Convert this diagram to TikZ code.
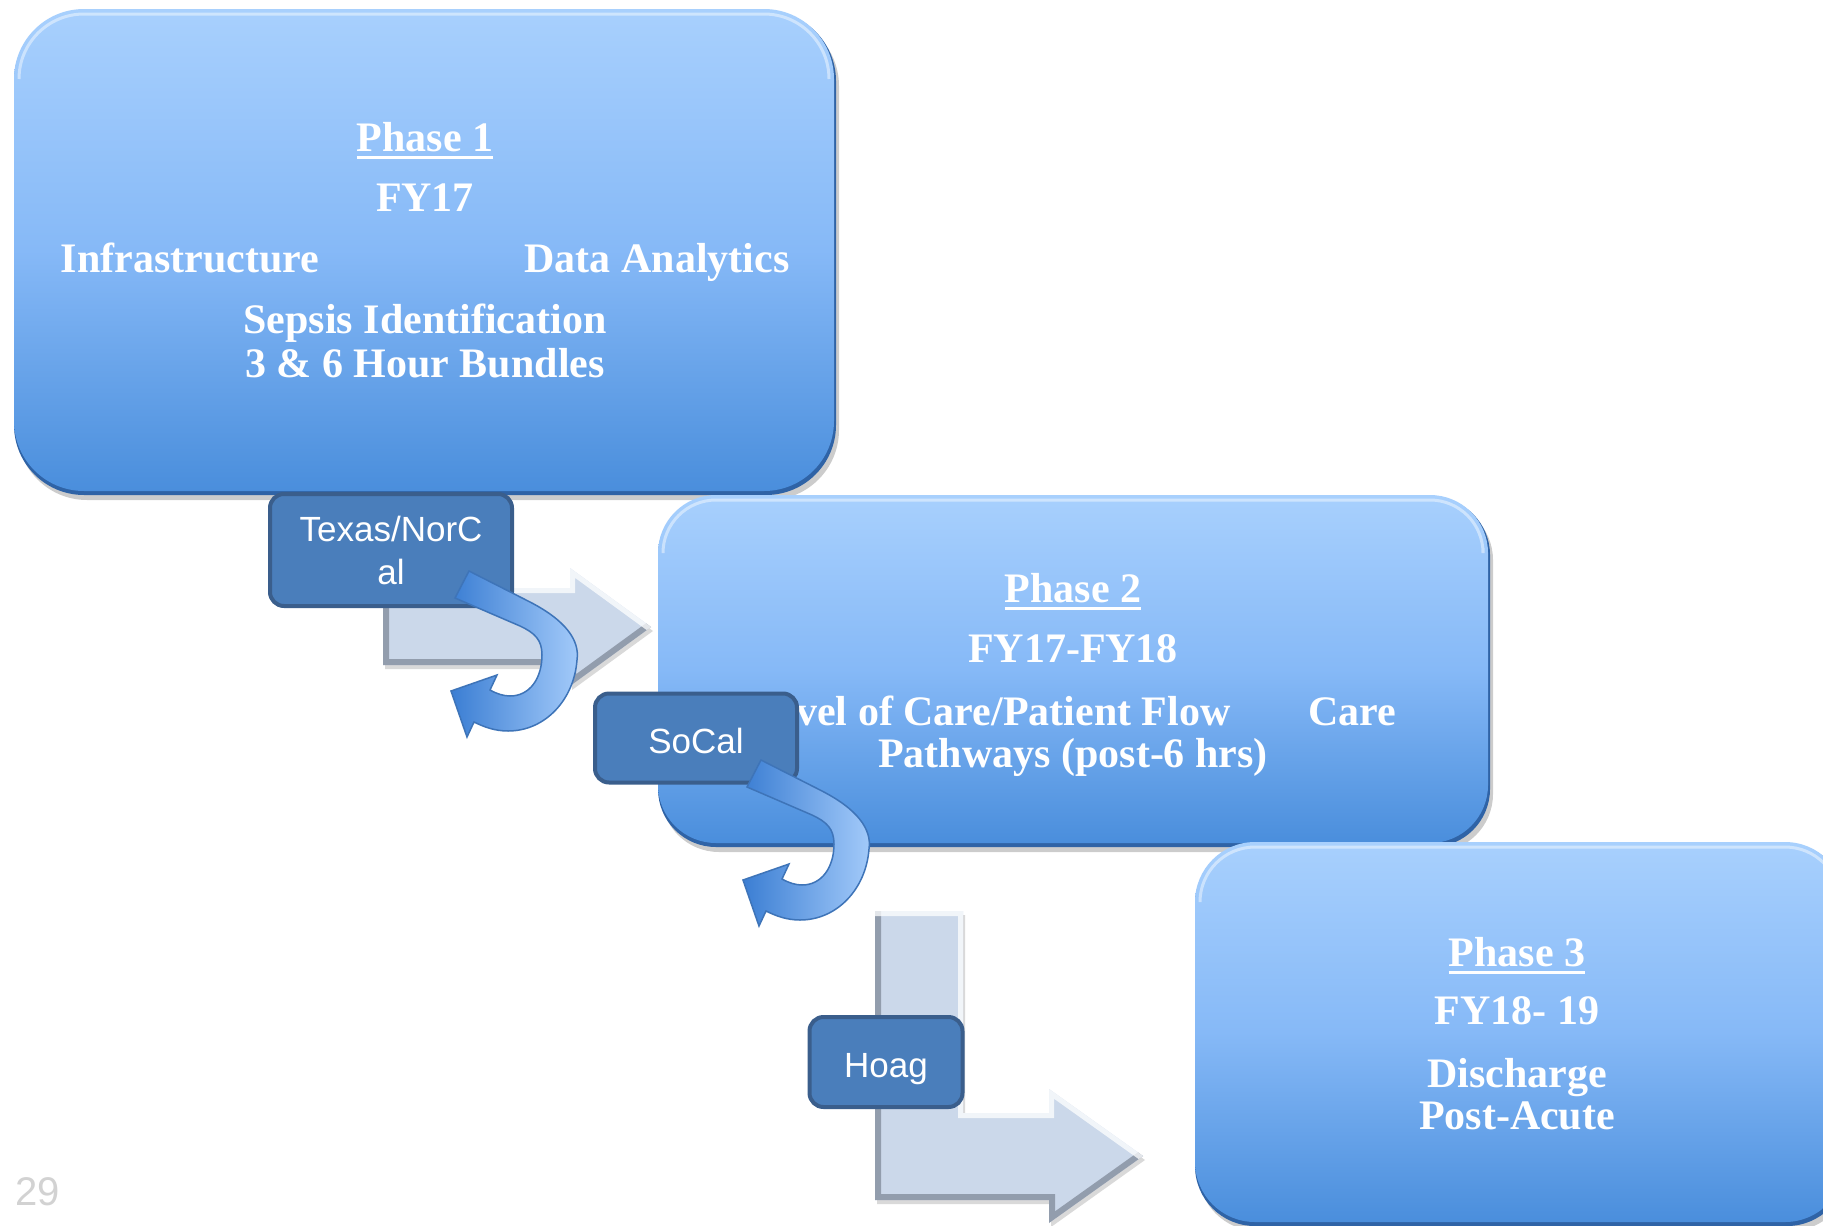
\documentclass[tikz,border=0pt]{standalone}
\usepackage{fontspec}
\setmainfont{Liberation Serif}
\newfontfamily\sansf{Liberation Sans}
\usetikzlibrary{shadows}
\definecolor{boxtop}{HTML}{A8D0FD}
\definecolor{boxmid}{HTML}{86B9F7}
\definecolor{boxbot}{HTML}{4A8EDC}
\definecolor{rim}{HTML}{2F63A6}
\definecolor{lblfill}{HTML}{4A7EBB}
\definecolor{lbldraw}{HTML}{3A5E8C}
\definecolor{greyfill}{HTML}{CBD8EA}
\definecolor{greydark}{HTML}{4E5664}
\definecolor{turnA}{HTML}{3B7ED3}
\definecolor{turnB}{HTML}{A4CBFA}
\definecolor{turnline}{HTML}{3E74B8}
\definecolor{pagenum}{HTML}{D2D2D2}
\tikzset{
  phaserim/.style={fill=rim, inner sep=0pt,
    drop shadow={shadow xshift=3pt, shadow yshift=-5pt, opacity=0.2, fill=black}},
  phasebox/.style={top color=boxtop, bottom color=boxbot, middle color=boxmid, inner sep=0pt},
  hilite/.style={white, opacity=0.45, line width=3pt},
  ptext/.style={text=white, font=\bfseries\fontsize{42}{42}\selectfont, inner sep=0pt, anchor=base},
  uline/.style={white, line width=3pt},
  lbl/.style={fill=lblfill, draw=lbldraw, line width=4pt, rounded corners=14pt, text=white,
    font=\sansf\fontsize{35}{43}\selectfont, align=center, inner sep=0pt},
  darkedge/.style={greydark, line width=12pt, opacity=0.45},
  lightedge/.style={white, line width=10pt, opacity=0.75},
  gshadow/.style={fill=black, opacity=0.15},
  uturn/.pic={
    \path[left color=turnA, right color=turnB, draw=turnline, line width=1.5pt]
      (469,571) -- (530,602) .. controls (565,620) and (580,640) .. (577,660)
      .. controls (574,700) and (545,731) .. (508,731)
      .. controls (495,731) and (484,727) .. (474,722)
      -- (467,737) -- (451,691) -- (497,675) -- (490,690)
      .. controls (497,694) and (504,696) .. (510,696)
      .. controls (530,696) and (542,678) .. (542,655)
      .. controls (542,640) and (535,633) .. (520,626)
      -- (455,598) -- cycle;
  }
}
\begin{document}
\begin{tikzpicture}[x=1pt, y=-1pt]
\useasboundingbox (0,0) rectangle (1823,1226);
\clip (0,0) rectangle (1823,1226);
\fill[white] (0,0) rectangle (1823,1226);

% ---------- Phase 1 box ----------
\node[phaserim, minimum width=822pt, minimum height=484pt, rounded corners=70pt] (b1rim) at (425,253) {};
\node[phasebox, minimum width=820pt, minimum height=482pt, rounded corners=70pt] (b1) at (424,250) {};
\draw[hilite, rounded corners=65pt] (19,79) -- (19,14) -- (829,14) -- (829,79);
\node[ptext] (p1) at (425,151) {Phase 1};
\draw[uline] ([yshift=-6pt]p1.base west) -- ([yshift=-6pt]p1.base east);
\node[ptext] (fy1) at (425,211) {FY17};
\node[ptext] (infra) at (190,272) {Infrastructure};
\node[ptext] (data) at (657,272) {Data Analytics};
\node[ptext] (seps) at (425,333) {Sepsis Identification};
\node[ptext] (bund) at (425,377) {3 \& 6 Hour Bundles};

% ---------- grey arrow 1 ----------
\fill[gshadow] (385,592) -- (572,592) -- (572,572) -- (653,631) -- (572,690) -- (572,669) -- (385,669) -- cycle;
\begin{scope}
  \clip (383,588) -- (570,588) -- (570,568) -- (651,627) -- (570,686) -- (570,665) -- (383,665) -- cycle;
  \fill[greyfill] (383,560) rectangle (655,690);
  \draw[darkedge] (383,588) -- (383,665) -- (570,665) -- (570,686) -- (651,627);
  \draw[lightedge] (383,588) -- (570,588) -- (570,568) -- (651,627);
\end{scope}

% ---------- Texas/NorCal ----------
\node[lbl, minimum width=242pt, minimum height=112pt] (tx) at (391,550) {Texas/NorC\\al};
\pic (turn1) at (0,0) {uturn};

% ---------- Phase 2 box ----------
\node[phaserim, minimum width=832pt, minimum height=350pt, rounded corners=58pt] (b2rim) at (1074,672) {};
\node[phasebox, minimum width=830pt, minimum height=348pt, rounded corners=58pt] (b2) at (1073,669) {};
\draw[hilite, rounded corners=53pt] (663,548) -- (663,500) -- (1483,500) -- (1483,548);
\node[ptext] (p2) at (1073,602) {Phase 2};
\draw[uline] ([yshift=-6pt]p2.base west) -- ([yshift=-6pt]p2.base east);
\node[ptext] (fy2) at (1073,662) {FY17-FY18};
\node[ptext] (loc) at (1073,725) {Level of Care/Patient Flow\hspace{78pt}Care};
\node[ptext] (pw) at (1073,767) {Pathways (post-6 hrs)};

% ---------- SoCal ----------
\node[lbl, minimum width=202pt, minimum height=89pt, text height=30pt, text depth=0pt] (socal) at (696,738) {SoCal};
\pic (turn2) at (292,189) {uturn};

% ---------- grey L arrow ----------
\fill[gshadow] (877,915) -- (965,915) -- (965,1117) -- (1051,1117) -- (1051,1093) -- (1145,1160) -- (1051,1227) -- (1051,1204) -- (877,1204) -- cycle;
\begin{scope}
  \clip (875,911) -- (963,911) -- (963,1113) -- (1049,1113) -- (1049,1089) -- (1143,1156) -- (1049,1223) -- (1049,1200) -- (875,1200) -- cycle;
  \fill[greyfill] (870,905) rectangle (1150,1230);
  \draw[darkedge] (875,911) -- (875,1200) -- (1049,1200) -- (1049,1223) -- (1143,1156);
  \draw[lightedge] (875,911) -- (963,911) -- (963,1113) -- (1049,1113) -- (1049,1089) -- (1143,1156);
\end{scope}

% ---------- Hoag ----------
\node[lbl, minimum width=153pt, minimum height=90pt, text height=31pt, text depth=0pt] (hoag) at (886,1062) {Hoag};

% ---------- Phase 3 box ----------
\node[phaserim, minimum width=652pt, minimum height=382pt, rounded corners=60pt] (b3rim) at (1521,1035) {};
\node[phasebox, minimum width=650pt, minimum height=380pt, rounded corners=60pt] (b3) at (1520,1032) {};
\draw[hilite, rounded corners=55pt] (1200,897) -- (1200,847) -- (1840,847) -- (1840,897);
\node[ptext] (p3) at (1517,966) {Phase 3};
\draw[uline] ([yshift=-6pt]p3.base west) -- ([yshift=-6pt]p3.base east);
\node[ptext] (fy3) at (1517,1024) {FY18- 19};
\node[ptext] (dis) at (1517,1087) {Discharge};
\node[ptext] (post) at (1517,1129) {Post-Acute};

% ---------- page number ----------
\node[anchor=base west, inner sep=0pt, text=pagenum, font=\sansf\fontsize{40}{40}\selectfont] (pg) at (15,1205) {29};
\end{tikzpicture}
\end{document}
